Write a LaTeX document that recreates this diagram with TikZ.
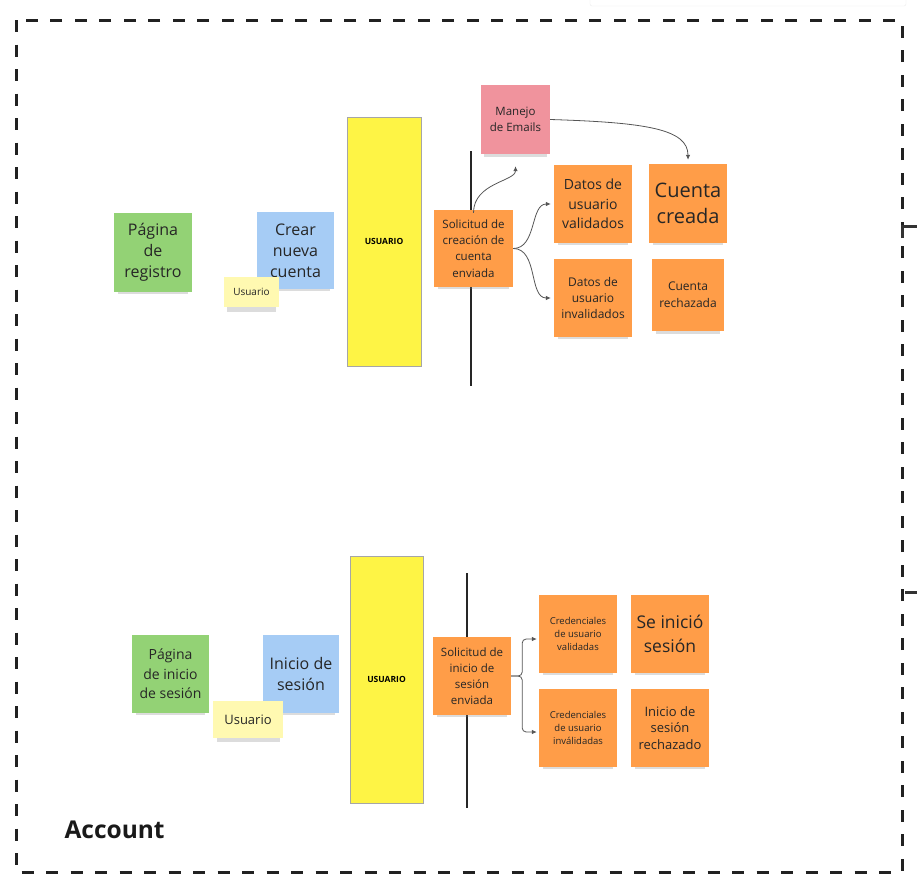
\documentclass[tikz,border=0pt]{standalone}
\usepackage{fontspec}
\setmainfont{Open Sans}
\usetikzlibrary{shadows,arrows.meta}
\definecolor{notegreen}{HTML}{93D275}
\definecolor{noteblue}{HTML}{A6CCF5}
\definecolor{notecream}{HTML}{FFF9B1}
\definecolor{noteorange}{HTML}{FF9D48}
\definecolor{notered}{HTML}{F0939D}
\definecolor{baryellow}{HTML}{FEF445}
\definecolor{inkgray}{HTML}{555555}
\begin{document}
\begin{tikzpicture}[x=1pt, y=1pt,
  fs/.style 2 args={font=\fontsize{#1}{#2}\selectfont},
  note/.style={inner sep=0pt, align=center, text=black!85,
    drop shadow={shadow xshift=0pt, shadow yshift=-7pt, shadow scale=.9, opacity=.28}},
  sq/.style={note, minimum width=78pt, minimum height=78pt},
  bar/.style={draw=black!35, line width=.6pt, fill=baryellow, inner sep=0pt,
    minimum width=74pt, font=\fontsize{8.5}{10}\selectfont\bfseries},
  flow/.style={draw=inkgray, line width=.8pt, -{Latex[length=5pt,width=4.5pt]}},
  swim/.style={black!85, line width=1.3pt}]
\useasboundingbox (0,0) rectangle (917,-886);

% frame
\draw[black!8, fill=white, rounded corners=2pt] (590,3) rectangle (906,-6);
\draw[black!87, line width=3pt, dash pattern=on 12pt off 12.5pt] (16,-20) rectangle (902,-872);
\draw[black!80, line width=3pt] (902,-238) -- (902,-226) -- (917,-226);
\draw[black!80, line width=3pt] (905,-592) -- (917,-592);
\node[anchor=west, font=\fontsize{24.5}{30}\selectfont\bfseries, text=black!90] (titulo) at (61,-830) {Account};

% registro
\node[note, fill=notegreen, minimum width=78pt, minimum height=79pt, fs={16}{21}] (registro) at (153,-252.5) {Página\\de\\registro};
\node[note, fill=noteblue, minimum width=77pt, minimum height=77pt, fs={16}{21}] (crear) at (295.5,-250.5) {Crear\\nueva\\cuenta};
\node[note, fill=notecream, minimum width=55pt, minimum height=30pt, fs={10}{12}] (usr1) at (251.5,-292) {Usuario};
\node[bar, minimum height=249pt] (tall1) at (384,-241.5) {USUARIO};
\draw[swim] (471,-151) -- (471,-386);
\node[note, fill=noteorange, minimum width=79pt, minimum height=77pt, fs={11.5}{16.3}] (solcrea) at (473.5,-248.5) {Solicitud de\\creación de\\cuenta\\enviada};
\node[note, fill=notered, minimum width=69pt, minimum height=69pt, fs={11.5}{16}] (emails) at (515.5,-119.5) {Manejo\\de Emails};
\node[sq, fill=noteorange, fs={14}{19.7}] (validos) at (593,-204) {Datos de\\usuario\\validados};
\node[note, fill=noteorange, minimum width=78pt, minimum height=79pt, fs={20}{26.7}] (creada) at (688,-203.5) {Cuenta\\creada};
\node[sq, fill=noteorange, fs={12}{16}] (invalidos) at (593,-298) {Datos de\\usuario\\invalidados};
\node[note, fill=noteorange, minimum width=72pt, minimum height=72pt, fs={12}{16.7}] (rechazada) at (688,-295) {Cuenta\\rechazada};

\draw[flow, shorten >=12pt, shorten <=-3pt] (solcrea.north) to[out=90, in=-90] (emails.south);
\draw[flow, shorten >=4pt] (emails.east) .. controls +(95,-3) and +(0,35) .. (creada.north);
\draw[flow, shorten >=3pt] (solcrea.east) to[out=0, in=180] (validos.west);
\draw[flow, shorten >=3pt] (solcrea.east) to[out=0, in=180] (invalidos.west);

% inicio de sesion
\node[note, fill=notegreen, minimum width=77pt, minimum height=78pt, fs={14}{19.5}] (iniciopage) at (170.5,-674) {Página\\de inicio\\de sesión};
\node[note, fill=noteblue, minimum width=76pt, minimum height=78pt, fs={16}{21.7}] (iniciosesion) at (301,-674) {Inicio de\\sesión};
\node[note, fill=notecream, minimum width=70pt, minimum height=37pt, fs={13}{15}] (usr2) at (248,-719.5) {Usuario};
\node[bar, minimum width=73pt, minimum height=247pt] (tall2) at (386.5,-679.5) {USUARIO};
\draw[swim] (467,-573) -- (467,-808);
\node[sq, fill=noteorange, fs={11.5}{16.2}] (solinicio) at (472,-676) {Solicitud de\\inicio de\\sesión\\enviada};
\node[sq, fill=noteorange, fs={9.5}{13.3}] (credok) at (578,-634) {Credenciales\\de usuario\\validadas};
\node[sq, fill=noteorange, fs={17.5}{23.3}] (seinicio) at (670,-634) {Se inició\\sesión};
\node[sq, fill=noteorange, fs={9.5}{13.3}] (credbad) at (578,-728) {Credenciales\\de usuario\\inválidadas};
\node[sq, fill=noteorange, fs={13}{16.7}] (rechazado) at (670,-728) {Inicio de\\sesión\\rechazado};

\draw[flow, rounded corners=4pt, shorten >=2pt] (solinicio.east) -- ++(11,0) |- ([yshift=-5pt]credok.west);
\draw[flow, rounded corners=4pt, shorten >=2pt] (solinicio.east) -- ++(11,0) |- ([yshift=-4pt]credbad.west);
\end{tikzpicture}
\end{document}
